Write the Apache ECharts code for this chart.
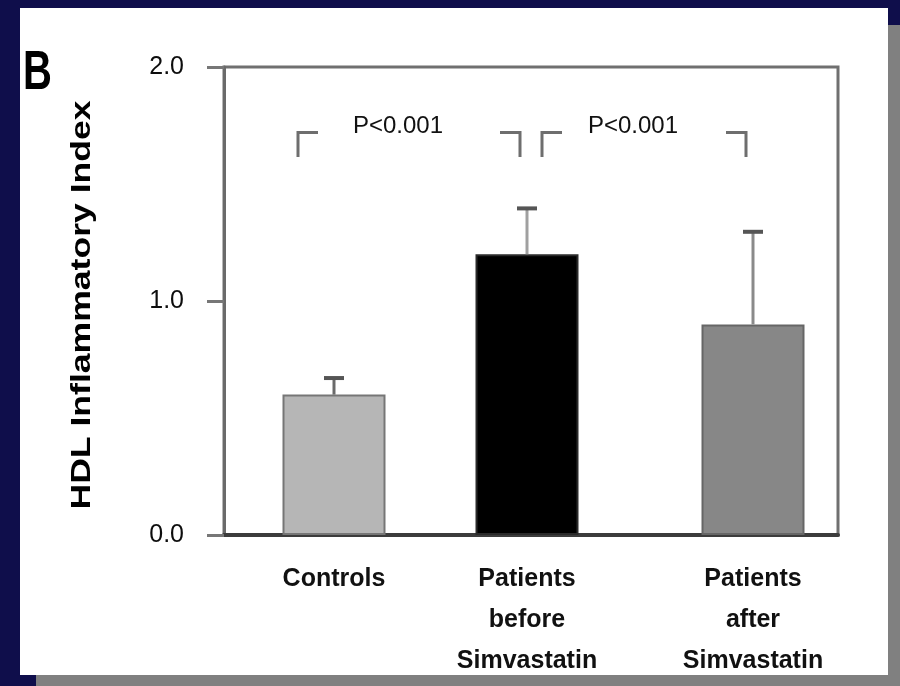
<!DOCTYPE html>
<html>
<head>
<meta charset="utf-8">
<script src="https://cdn.jsdelivr.net/npm/echarts@6/dist/echarts.min.js"></script>
<style>
  html, body { margin: 0; padding: 0; background: #0f0e4b; }
  #chart { width: 900px; height: 686px; }
</style>
</head>
<body>
<div id="chart"></div>
<script>
// Group names (line breaks as printed under each bar)
const categories = ['Controls', 'Patients\nbefore\nSimvastatin', 'Patients\nafter\nSimvastatin'];
// Mean HDL inflammatory index per group
const means = [0.60, 1.20, 0.90];
// Upper error bar length (SD) per group
const errors = [0.075, 0.20, 0.40];
// Significance annotations between groups
const pLabels = ['P<0.001', 'P<0.001'];
// Y axis ticks
const yMin = 0, yMax = 2, yStep = 1;

// Layout: horizontal slot of each group on a hidden 0..6.14 axis
const slotX = [1.10, 3.03, 5.29];
const bracketSpans = [[0.74, 2.96], [3.18, 5.22]];
const bracketArm = 0.2, bracketTop = 1.72, bracketFoot = 1.615, pLabelY = 1.745;

const barFill = ['#b6b6b6', '#000000', '#878787'];
const barEdge = ['#767676', '#2a2a2a', '#666666'];
const errLine = ['#6a6a6a', '#a0a0a0', '#8a8a8a'];
const FONT = '"Liberation Sans", Arial, Helvetica, sans-serif';

const chart = echarts.init(document.getElementById('chart'), null, { renderer: 'canvas' });

chart.setOption({
  animation: false,
  backgroundColor: '#0f0e4b',
  graphic: [
    // drop shadow of the white card
    { type: 'rect', z: -10, shape: { x: 888, y: 25, width: 12, height: 661 }, style: { fill: '#808080' } },
    { type: 'rect', z: -10, shape: { x: 36, y: 675, width: 864, height: 11 }, style: { fill: '#808080' } },
    // white card
    { type: 'rect', z: -9, shape: { x: 20, y: 8, width: 868, height: 667 }, style: { fill: '#ffffff' } },
    // panel letter
    { type: 'text', z: 10, x: 23, y: 74, scaleY: 1.38,
      style: { text: 'B', font: 'bold 40px ' + FONT, fill: '#000', textAlign: 'left', textVerticalAlign: 'middle' } },
    // y axis title
    { type: 'text', z: 10, x: 82, y: 305, rotation: Math.PI / 2, scaleX: 1.27,
      style: { text: 'HDL Inflammatory Index', font: 'bold 28px ' + FONT, fill: '#000', textAlign: 'center', textVerticalAlign: 'middle' } }
  ],
  grid: {
    left: 224, right: 62, top: 67, bottom: 151,
    show: true, borderColor: '#707070', borderWidth: 3, backgroundColor: 'transparent'
  },
  xAxis: {
    type: 'value', min: 0, max: 6.14,
    axisLine: { show: true, lineStyle: { color: '#3c3c3c', width: 4 } },
    axisTick: { show: false }, axisLabel: { show: false }, splitLine: { show: false }
  },
  yAxis: {
    type: 'value', min: yMin, max: yMax, interval: yStep,
    axisLine: { show: true, lineStyle: { color: '#6a6a6a', width: 3 } },
    axisTick: { show: true, inside: false, length: 17, lineStyle: { color: '#777', width: 3 } },
    axisLabel: {
      margin: 40, color: '#0d0d0d', fontFamily: FONT, fontSize: 25,
      formatter: v => v.toFixed(1)
    },
    splitLine: { show: false }
  },
  series: [
    {
      type: 'bar',
      barWidth: 103,
      data: slotX.map((x, i) => ({
        value: [x, means[i]],
        itemStyle: { color: barFill[i], borderColor: barEdge[i], borderWidth: 2 }
      })),
      label: {
        show: true, position: 'bottom', distance: 24,
        formatter: p => categories[p.dataIndex],
        fontFamily: FONT, fontWeight: 'bold', fontSize: 25, lineHeight: 41,
        color: '#111', align: 'center'
      },
      z: 2
    },
    {
      // upper error bars
      type: 'custom',
      z: 3,
      data: slotX.map((x, i) => [x, means[i], means[i] + errors[i], i]),
      renderItem: (params, api) => {
        const base = api.coord([api.value(0), api.value(1)]);
        const top = api.coord([api.value(0), api.value(2)]);
        return {
          type: 'group',
          children: [
            { type: 'line', shape: { x1: base[0], y1: base[1], x2: top[0], y2: top[1] + 1 },
              style: { stroke: errLine[api.value(3)], lineWidth: 3 } },
            { type: 'line', shape: { x1: top[0] - 10, y1: top[1] + 1, x2: top[0] + 10, y2: top[1] + 1 },
              style: { stroke: '#555', lineWidth: 4 } }
          ]
        };
      }
    },
    {
      // significance brackets
      type: 'custom',
      z: 3,
      data: bracketSpans.map((s, i) => [s[0], s[1], i]),
      renderItem: (params, api) => {
        const x1 = api.value(0), x2 = api.value(1);
        const a = api.coord([x1, bracketFoot]), b = api.coord([x1, bracketTop]), c = api.coord([x1 + bracketArm, bracketTop]);
        const d = api.coord([x2 - bracketArm, bracketTop]), e = api.coord([x2, bracketTop]), f = api.coord([x2, bracketFoot]);
        const t = api.coord([(x1 + x2) / 2, pLabelY]);
        const st = { stroke: '#6e6e6e', lineWidth: 3, fill: null };
        return {
          type: 'group',
          children: [
            { type: 'polyline', shape: { points: [a, b, c] }, style: st },
            { type: 'polyline', shape: { points: [d, e, f] }, style: st },
            { type: 'text', x: t[0] - 11, y: t[1],
              style: { text: pLabels[api.value(2)], font: '24px ' + FONT, fill: '#111',
                       textAlign: 'center', textVerticalAlign: 'middle' } }
          ]
        };
      }
    }
  ]
});
</script>
</body>
</html>
